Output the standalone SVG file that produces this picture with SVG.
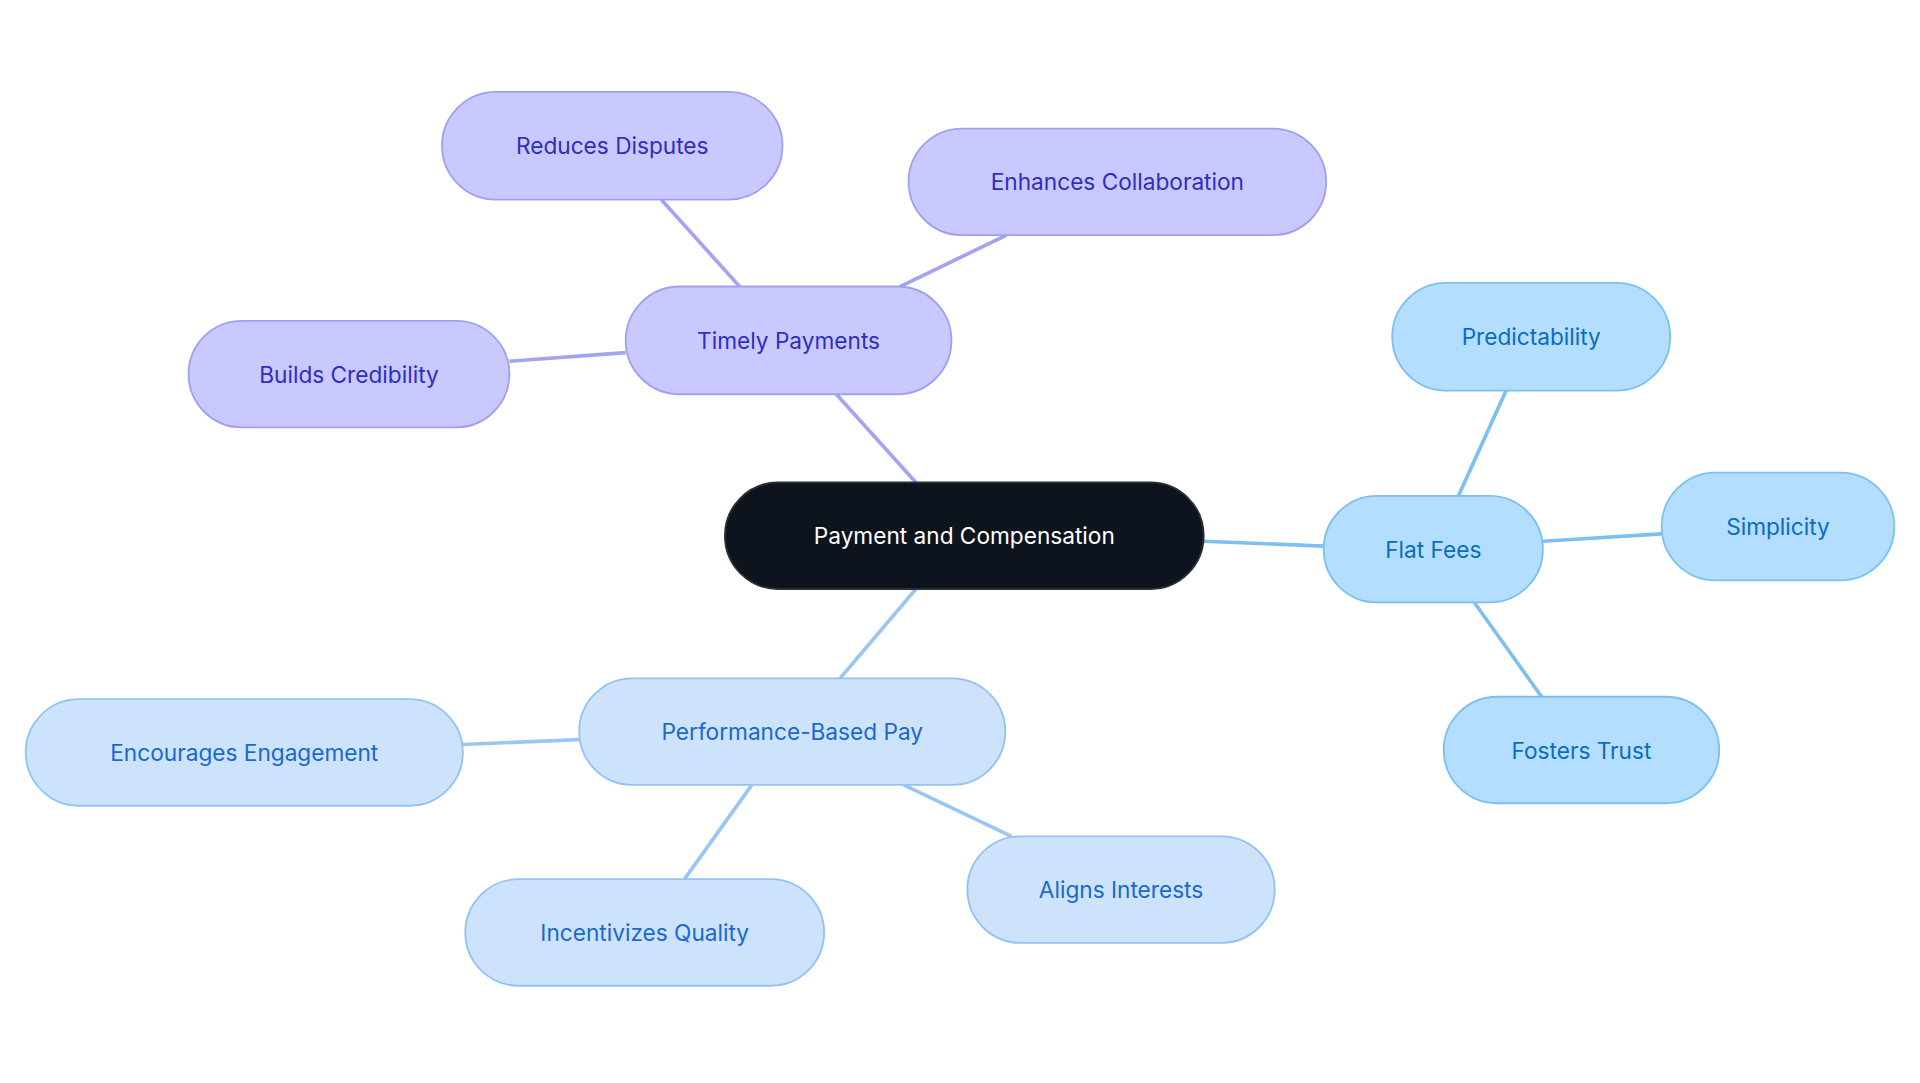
<svg xmlns="http://www.w3.org/2000/svg" width="1920" height="1083" viewBox="0 0 1920 1083">
<style>
text{font-family:Inter,"Noto Sans","Liberation Sans",sans-serif;font-size:18.5px;text-anchor:middle;dominant-baseline:central}
.e{stroke-width:3;fill:none}
.ep{stroke:#a3a3f2}.ef{stroke:#7dc0ef}.eb{stroke:#9cc6f2}
.p rect{fill:#c9c9ff;stroke:#a0a0f0;stroke-width:1.5}.p text{fill:#2e2ec2}
.f rect{fill:#b3deff;stroke:#7dc0ef;stroke-width:1.5}.f text{fill:#0b6cc0}
.b rect{fill:#cde3fc;stroke:#94c2f2;stroke-width:1.5}.b text{fill:#1a68d0}
</style>
<rect width="1920" height="1083" fill="#fff"/>
<g transform="scale(1.2245)">
<g id="connectors">
<line class="e ep" x1="748" y1="394" x2="683" y2="322"/>
<line class="e ep" x1="604" y1="234" x2="540" y2="163"/>
<line class="e ep" x1="735" y1="234" x2="822" y2="192"/>
<line class="e ep" x1="511" y1="288" x2="416" y2="295"/>
<line class="e ef" x1="983" y1="442" x2="1081" y2="446"/>
<line class="e ef" x1="1191" y1="405" x2="1230" y2="319"/>
<line class="e ef" x1="1260" y1="442" x2="1357" y2="436"/>
<line class="e ef" x1="1204" y1="492" x2="1259" y2="569"/>
<line class="e eb" x1="748" y1="481" x2="686" y2="554"/>
<line class="e eb" x1="473" y1="604" x2="378" y2="608"/>
<line class="e eb" x1="614" y1="641" x2="559" y2="718"/>
<line class="e eb" x1="738" y1="641" x2="826" y2="683"/>
</g>
<g id="center"><rect x="592" y="394" width="391" height="87" rx="43.5" fill="#0d141d" stroke="#2a2f38" stroke-width="1.5"/><text x="787.5" y="437.5" fill="#fff">Payment and Compensation</text></g>
<g id="timely" class="p"><rect x="511" y="234" width="266" height="88" rx="44"/><text x="644" y="278">Timely Payments</text></g>
<g id="reduces" class="p"><rect x="361" y="75" width="278" height="88" rx="44"/><text x="500" y="119">Reduces Disputes</text></g>
<g id="enhances" class="p"><rect x="742" y="105" width="341" height="87" rx="43.5"/><text x="912.5" y="148.5">Enhances Collaboration</text></g>
<g id="builds" class="p"><rect x="154" y="262" width="262" height="87" rx="43.5"/><text x="285" y="305.5">Builds Credibility</text></g>
<g id="flat" class="f"><rect x="1081" y="405" width="179" height="87" rx="43.5"/><text x="1170.5" y="448.5">Flat Fees</text></g>
<g id="predictability" class="f"><rect x="1137" y="231" width="227" height="88" rx="44"/><text x="1250.5" y="275">Predictability</text></g>
<g id="simplicity" class="f"><rect x="1357" y="386" width="190" height="88" rx="44"/><text x="1452" y="430">Simplicity</text></g>
<g id="fosters" class="f"><rect x="1179" y="569" width="225" height="87" rx="43.5"/><text x="1291.5" y="612.5">Fosters Trust</text></g>
<g id="performance" class="b"><rect x="473" y="554" width="348" height="87" rx="43.5"/><text x="647" y="597.5">Performance-Based Pay</text></g>
<g id="encourages" class="b"><rect x="21" y="571" width="357" height="87" rx="43.5"/><text x="199.5" y="614.5">Encourages Engagement</text></g>
<g id="incentivizes" class="b"><rect x="380" y="718" width="293" height="87" rx="43.5"/><text x="526.5" y="761.5">Incentivizes Quality</text></g>
<g id="aligns" class="b"><rect x="790" y="683" width="251" height="87" rx="43.5"/><text x="915.5" y="726.5">Aligns Interests</text></g>
</g>
</svg>
